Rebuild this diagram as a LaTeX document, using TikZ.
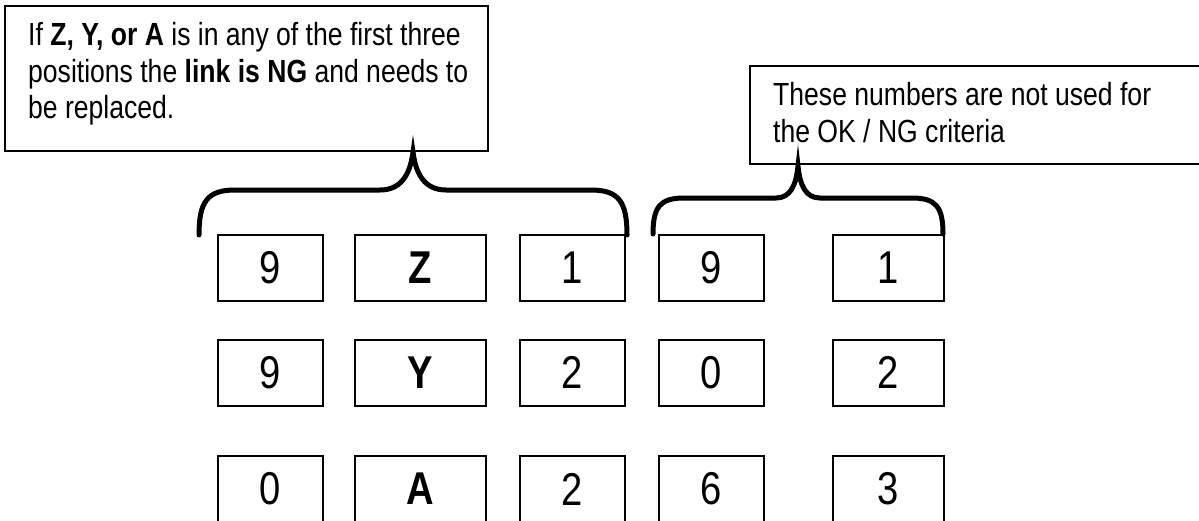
\documentclass[tikz,border=0pt]{standalone}
\usepackage{fontspec}
\setmainfont{Liberation Sans}[FakeStretch=0.83]
\usepackage{tikz}

\begin{document}
\begin{tikzpicture}[
  x=1pt, y=-1pt,
  cell/.style={rectangle, draw, line width=2pt, minimum height=66pt, inner sep=0pt, font=\fontsize{46}{50}\selectfont},
  note/.style={rectangle, draw, line width=1.5pt, inner sep=0pt},
  notetext/.style={anchor=north west, inner sep=0pt, align=left, font=\fontsize{32}{36.5}\selectfont},
  brace/.style={line width=5pt, line cap=round}
]
\useasboundingbox (0,0) rectangle (1199,520);

% callouts
\node[note, minimum width=483pt, minimum height=145pt] (note1) at (246.5,78.5) {};
\node[notetext] (text1) at (28,22.5) {If \textbf{Z, Y, or A} is in any of the first three\\positions the \textbf{link is NG} and needs to\\be replaced.};
\node[note, minimum width=455pt, minimum height=98pt] (note2) at (977.5,115) {};
\node[notetext] (text2) at (773,82.5) {These numbers are not used for\\the OK / NG criteria};

% row 1
\node[cell, minimum width=105pt] (r1c1) at (270.5,267.5) {9};
\node[cell, minimum width=131pt] (r1c2) at (420.5,267.5) {\textbf{Z}};
\node[cell, minimum width=105pt] (r1c3) at (572.5,267.5) {1};
\node[cell, minimum width=105pt] (r1c4) at (711.5,267.5) {9};
\node[cell, minimum width=111pt] (r1c5) at (888.5,267.5) {1};
% row 2
\node[cell, minimum width=105pt] (r2c1) at (270.5,372.5) {9};
\node[cell, minimum width=131pt] (r2c2) at (420.5,372.5) {\textbf{Y}};
\node[cell, minimum width=105pt] (r2c3) at (572.5,372.5) {2};
\node[cell, minimum width=105pt] (r2c4) at (711.5,372.5) {0};
\node[cell, minimum width=111pt] (r2c5) at (888.5,372.5) {2};
% row 3
\node[cell, minimum width=105pt] (r3c1) at (270.5,489) {0};
\node[cell, minimum width=131pt] (r3c2) at (420.5,489) {\textbf{A}};
\node[cell, minimum width=105pt] (r3c3) at (572.5,489) {2};
\node[cell, minimum width=105pt] (r3c4) at (711.5,489) {6};
\node[cell, minimum width=111pt] (r3c5) at (888.5,489) {3};

% braces
\draw[brace] (199,235) .. controls (199,202) and (207,190) .. (235,190) -- (380,190)
  .. controls (400,190) and (410,176) .. (413,152) .. controls (416,176) and (426,190) .. (446,190)
  -- (591,190) .. controls (619,190) and (627,202) .. (627,235);
\draw[brace] (653,234) .. controls (653,207) and (660,198) .. (684,198) -- (776,198)
  .. controls (790,198) and (796,186) .. (798,166) .. controls (800,186) and (806,198) .. (820,198)
  -- (912,198) .. controls (936,198) and (943,207) .. (943,234);
\end{tikzpicture}
\end{document}
